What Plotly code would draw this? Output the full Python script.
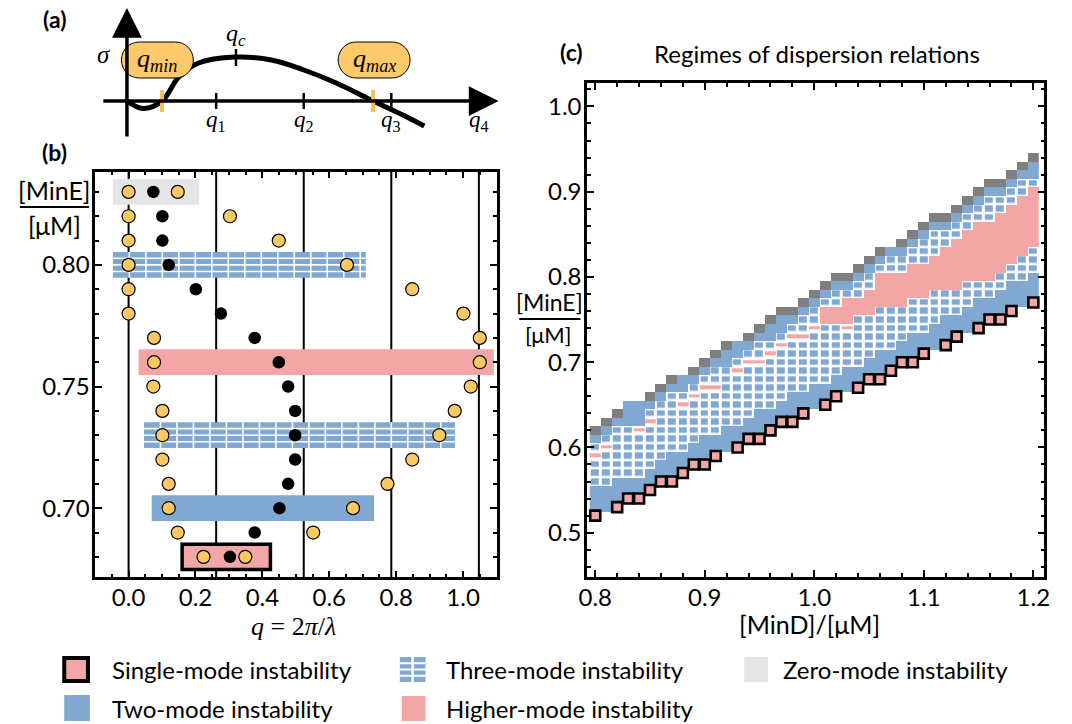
import plotly.graph_objects as go

W, H = 1072, 724
SANS = "Lato, 'DejaVu Sans', sans-serif"
SERIF = "'Liberation Serif', 'DejaVu Serif', serif"
BLUE = "#80a8d0"
PINK = "#f2a6a6"
LGRAY = "#e5e5e5"
DGRAY = "#7f7f7f"
ORANGE = "#fcc862"

# ---------------- panel (a): schematic dispersion relation ----------------
sketch_q = [-0.005, 0.043, 0.10, 0.15, 0.209, 0.318, 0.427, 0.524, 0.621, 0.731, 0.82, 0.884]
sketch_sigma = [0.0, -0.75, 0.0, 2.4, 3.8, 4.4, 4.1, 3.1, 1.8, 0.0, -1.4, -2.5]
q_min_a, q_c_a, q_max_a = 0.10, 0.321, 0.731
sigma_c_a = 4.4

# ---------------- panel (b): unstable band per [MinE] ----------------
mine_b = [0.83, 0.82, 0.81, 0.80, 0.79, 0.78, 0.77, 0.76, 0.75, 0.74, 0.73, 0.72, 0.71, 0.70, 0.69, 0.68]
q_min_b = [0.0, 0.0, 0.0, 0.0, 0.0, 0.0, 0.076, 0.076, 0.074, 0.101, 0.101, 0.101, 0.120, 0.120, 0.147, 0.224]
q_c_b = [0.074, 0.101, 0.101, 0.120, 0.201, 0.276, 0.377, 0.449, 0.477, 0.498, 0.498, 0.498, 0.477, 0.451, 0.377, 0.303]
q_max_b = [0.147, 0.303, 0.449, 0.653, 0.848, 1.001, 1.050, 1.050, 1.023, 0.975, 0.929, 0.848, 0.774, 0.671, 0.552, 0.349]
mode_q = [0.0, 0.2618, 0.5236, 0.7854, 1.0472]
mode_labels = ["", "<i>q</i><sub>1</sub>", "<i>q</i><sub>2</sub>", "<i>q</i><sub>3</sub>", "<i>q</i><sub>4</sub>"]

regime_mine = [0.83, 0.80, 0.76, 0.73, 0.70, 0.68]
regime_kind = ["zero", "three", "higher", "three", "two", "single"]
regime_q_lo = [-0.047, -0.047, 0.030, 0.046, 0.069, 0.160]
regime_q_hi = [0.211, 0.709, 1.092, 0.976, 0.734, 0.424]

# ---------------- panel (c): regime map ----------------
mind = [0.80, 0.81, 0.82, 0.83, 0.84, 0.85, 0.86, 0.87, 0.88, 0.89, 0.90, 0.91, 0.92, 0.93,
        0.94, 0.95, 0.96, 0.97, 0.98, 0.99, 1.00, 1.01, 1.02, 1.03, 1.04, 1.05, 1.06, 1.07,
        1.08, 1.09, 1.10, 1.11, 1.12, 1.13, 1.14, 1.15, 1.16, 1.17, 1.18, 1.19, 1.20]
single_mode = [0.52, None, 0.53, 0.54, 0.54, 0.55, 0.56, 0.56, 0.57, 0.58, 0.58, 0.59, None, 0.60,
               0.61, 0.61, 0.62, 0.63, 0.63, 0.64, None, 0.65, 0.66, None, 0.67, 0.68, 0.68, 0.69,
               0.70, 0.70, 0.71, None, 0.72, 0.73, None, 0.74, 0.75, 0.75, 0.76, None, 0.77]
two_lo = [0.53, 0.53, 0.54, 0.55, 0.55, 0.56, 0.57, 0.57, 0.58, 0.59, 0.59, 0.60, 0.60, 0.61,
          0.62, 0.62, 0.63, 0.64, 0.64, 0.65, 0.65, 0.66, 0.67, 0.67, 0.68, 0.69, 0.69, 0.70,
          0.71, 0.71, 0.72, 0.72, 0.73, 0.74, 0.74, 0.75, 0.76, 0.76, 0.77, 0.77, 0.78]
three_lo = [0.56, 0.56, 0.57, 0.57, 0.57, 0.58, 0.59, 0.60, 0.60, 0.61, 0.62, 0.62, 0.63, 0.63,
            0.64, 0.65, 0.65, 0.66, 0.67, 0.67, 0.68, 0.68, 0.69, 0.70, 0.70, 0.71, 0.72, 0.72,
            0.73, 0.74, 0.74, 0.75, 0.76, 0.76, 0.77, 0.78, 0.78, 0.79, 0.80, 0.80, 0.81]
three_hi = [0.60, 0.61, 0.62, 0.62, 0.62, 0.64, 0.65, 0.66, 0.66, 0.67, 0.68, 0.69, 0.69, 0.70,
            0.71, 0.72, 0.72, 0.73, 0.74, 0.75, 0.76, 0.77, 0.78, 0.78, 0.79, 0.80, 0.81, 0.82,
            0.82, 0.83, 0.84, 0.85, 0.85, 0.86, 0.87, 0.88, 0.89, 0.89, 0.90, 0.91, 0.91]
two_hi = [0.61, 0.62, 0.63, 0.65, 0.65, 0.65, 0.66, 0.67, 0.68, 0.68, 0.69, 0.70, 0.71, 0.72,
          0.72, 0.73, 0.74, 0.75, 0.75, 0.76, 0.77, 0.78, 0.79, 0.79, 0.80, 0.81, 0.82, 0.83,
          0.83, 0.84, 0.85, 0.86, 0.86, 0.87, 0.88, 0.89, 0.90, 0.90, 0.91, 0.92, 0.93]
zero_mode = [0.62, 0.63, 0.64, None, None, 0.66, 0.67, 0.68, None, 0.69, 0.70, 0.71, 0.72, None,
             0.73, 0.74, 0.75, 0.76, 0.76, 0.77, 0.78, 0.79, 0.80, 0.80, 0.81, 0.82, 0.83, None,
             0.84, 0.85, 0.86, 0.87, 0.87, 0.88, 0.89, 0.90, 0.91, 0.91, 0.92, 0.93, 0.94]
higher_lo = [None] * 21 + [0.75, 0.75, 0.75, 0.76, 0.76, 0.77, 0.77, 0.77, 0.78, 0.78,
                           0.79, 0.79, 0.79, 0.80, 0.80, 0.80, 0.81, 0.82, 0.83, 0.84]
higher_hi = [None] * 21 + [0.76, 0.76, 0.77, 0.77, 0.78, 0.80, 0.80, 0.80, 0.81, 0.81,
                           0.82, 0.83, 0.84, 0.85, 0.86, 0.86, 0.87, 0.88, 0.89, 0.90]
dash_mind = [0.80, 0.81, 0.84, 0.85, 0.88, 0.89, 0.90, 0.91, 0.93, 0.94, 0.95, 0.96, 0.97, 0.98, 0.99, 1.00, 1.03]
dash_mine = [0.59, 0.60, 0.62, 0.63, 0.65, 0.66, 0.67, 0.67, 0.69, 0.70, 0.70, 0.71, 0.72, 0.73, 0.73, 0.74, 0.74]

# ---------------- helpers ----------------
def PX(x):
    return x / W


def PY(y):
    return 1 - y / H


def h(v):
    return int(round(v * 100))


fig = go.Figure()

# ---------- panel (a) ----------
fig.add_trace(go.Scatter(x=sketch_q, y=sketch_sigma, mode="lines",
                         line=dict(color="black", width=5, shape="spline", smoothing=1.0),
                         xaxis="x2", yaxis="y2", hoverinfo="skip", showlegend=False))

# ---------- panel (b) ----------
fig.add_trace(go.Scatter(x=q_c_b, y=mine_b, mode="markers",
                         marker=dict(color="black", size=12.5),
                         xaxis="x", yaxis="y", hoverinfo="skip", showlegend=False))
fig.add_trace(go.Scatter(x=q_min_b + q_max_b, y=mine_b + mine_b, mode="markers",
                         marker=dict(color=ORANGE, size=13, line=dict(color="black", width=1.2)),
                         xaxis="x", yaxis="y", hoverinfo="skip", showlegend=False))

# ---------- panel (c) grid ----------
rows_h = list(range(50, 97))
rows = [r / 100 for r in rows_h]


def blank():
    return [[None] * len(mind) for _ in rows_h]


z_two, z_three, z_high, z_dash, z_zero = blank(), blank(), blank(), blank(), blank()
for j in range(len(mind)):
    for r in range(h(two_lo[j]), h(three_lo[j])):
        z_two[r - 50][j] = 1
    for r in range(h(three_hi[j]) + 1, h(two_hi[j]) + 1):
        z_two[r - 50][j] = 1
    for r in range(h(three_lo[j]), h(three_hi[j]) + 1):
        if higher_lo[j] is not None and h(higher_lo[j]) <= r <= h(higher_hi[j]):
            z_high[r - 50][j] = 1
        else:
            z_three[r - 50][j] = 1
    if zero_mode[j] is not None:
        z_zero[h(zero_mode[j]) - 50][j] = 1
for m, e in zip(dash_mind, dash_mine):
    j = mind.index(m)
    z_three[h(e) - 50][j] = None
    z_dash[h(e) - 50][j] = 1


def hm(z, color, xgap=0, ygap=0):
    return go.Heatmap(x=mind, y=rows, z=z, zmin=0, zmax=1,
                      colorscale=[[0, color], [1, color]], showscale=False,
                      xgap=xgap, ygap=ygap, hoverinfo="skip",
                      xaxis="x3", yaxis="y3")


fig.add_trace(hm(z_two, BLUE))
fig.add_trace(hm(z_three, BLUE, 3, 2.5))
fig.add_trace(hm(z_high, PINK))
fig.add_trace(hm(z_dash, PINK, 0, 5))
fig.add_trace(hm(z_zero, DGRAY))
sx = [m for m, s in zip(mind, single_mode) if s is not None]
sy = [s for s in single_mode if s is not None]
fig.add_trace(go.Scatter(x=sx, y=sy, mode="markers",
                         marker=dict(symbol="square", size=10, color=PINK,
                                     line=dict(color="black", width=2.6)),
                         xaxis="x3", yaxis="y3", hoverinfo="skip", showlegend=False))

# ---------------- shapes ----------------
shapes = []
annots = []
half = 0.0053
kind_color = {"zero": LGRAY, "three": BLUE, "higher": PINK, "two": BLUE, "single": PINK}
for e, k, lo, hi in zip(regime_mine, regime_kind, regime_q_lo, regime_q_hi):
    if k == "single":
        shapes.append(dict(type="rect", xref="x", yref="y", x0=lo, x1=hi, y0=e - 0.0052, y1=e + 0.0052,
                           fillcolor=PINK, line=dict(color="black", width=3.5), layer="below"))
    else:
        shapes.append(dict(type="rect", xref="x", yref="y", x0=lo, x1=hi, y0=e - half, y1=e + half,
                           fillcolor=kind_color[k], line=dict(width=0), layer="below"))
    if k == "three":
        step = 0.0493
        xq = lo + step
        while xq < hi - 0.01:
            shapes.append(dict(type="line", xref="x", yref="y", x0=xq, x1=xq, y0=e - half, y1=e + half,
                               line=dict(color="white", width=1.6), layer="below"))
            xq += step
        for dy in (-0.0027, 0.0, 0.0027):
            shapes.append(dict(type="line", xref="x", yref="y", x0=lo, x1=hi, y0=e + dy, y1=e + dy,
                               line=dict(color="white", width=1.6), layer="below"))
for q in mode_q:
    shapes.append(dict(type="line", xref="x", yref="y domain", x0=q, x1=q, y0=0, y1=1,
                       line=dict(color="black", width=2), layer="below"))

# panel (a) decorations
for q, lab in zip(mode_q[1:], mode_labels[1:]):
    shapes.append(dict(type="line", xref="x2", yref="y2", x0=q, x1=q, y0=-0.8, y1=0.8,
                       line=dict(color="black", width=2.5)))
    annots.append(dict(xref="x2", yref="y2", x=q, y=-2.0, text=lab, showarrow=False,
                       font=dict(family=SERIF, size=23, color="black")))
shapes.append(dict(type="line", xref="x2", yref="y2", x0=q_c_a, x1=q_c_a, y0=sigma_c_a - 0.9, y1=sigma_c_a + 0.8,
                   line=dict(color="black", width=2.5)))
for q in (q_min_a, q_max_a):
    shapes.append(dict(type="line", xref="x2", yref="y2", x0=q, x1=q, y0=-1.1, y1=1.1,
                       line=dict(color="#f7c05a", width=4)))


def pill(cx, cy, w, hh):
    ry = hh / 2
    rx = ry * 10 / 338.9  # same radius in px along q (10 px per sigma unit, 338.9 px per q unit)
    x0, x1 = cx - w / 2, cx + w / 2
    y0, y1 = cy - hh / 2, cy + hh / 2
    return (f"M {x0 + rx},{y0} L {x1 - rx},{y0} C {x1 - 0.45 * rx},{y0} {x1},{y0 + 0.45 * ry} {x1},{y0 + ry} "
            f"L {x1},{y1 - ry} C {x1},{y1 - 0.45 * ry} {x1 - 0.45 * rx},{y1} {x1 - rx},{y1} L {x0 + rx},{y1} "
            f"C {x0 + 0.45 * rx},{y1} {x0},{y1 - 0.45 * ry} {x0},{y1 - ry} L {x0},{y0 + ry} "
            f"C {x0},{y0 + 0.45 * ry} {x0 + 0.45 * rx},{y0} {x0 + rx},{y0} Z")


for cx, lab in ((q_min_a - 0.014, "<i>q<sub>min</sub></i>"), (q_max_a + 0.003, "<i>q<sub>max</sub></i>")):
    shapes.append(dict(type="path", xref="x2", yref="y2", path=pill(cx, 4.1, 0.215, 3.6),
                       fillcolor="#fdc96b", line=dict(color="black", width=1)))
    annots.append(dict(xref="x2", yref="y2", x=cx, y=4.1, text=lab, showarrow=False,
                       font=dict(family=SERIF, size=26, color="black")))
annots.append(dict(xref="x2", yref="y2", x=q_c_a, y=6.6, text="<i>q<sub>c</sub></i>", showarrow=False,
                   font=dict(family=SERIF, size=24, color="black")))
annots.append(dict(xref="x2", yref="y2", x=-0.074, y=4.6, text="<i>σ</i>", showarrow=False,
                   font=dict(family=SERIF, size=25, color="black")))
# axis arrows
annots.append(dict(xref="x2", yref="y2", axref="x2", ayref="y2", x=1.106, y=0, ax=-0.08, ay=0,
                   text="", showarrow=True, arrowhead=2, arrowsize=1.7, arrowwidth=3.5, arrowcolor="black"))
annots.append(dict(xref="x2", yref="y2", axref="x2", ayref="y2", x=-0.005, y=9.3, ax=-0.005, ay=-3.7,
                   text="", showarrow=True, arrowhead=2, arrowsize=1.7, arrowwidth=3.5, arrowcolor="black"))


# panel labels, titles
def ptext(x, y, text, size=21, family=SANS, xanchor="center", bold=False):
    annots.append(dict(xref="paper", yref="paper", x=PX(x), y=PY(y), text=(f"<b>{text}</b>" if bold else text),
                       showarrow=False, xanchor=xanchor, yanchor="middle",
                       font=dict(family=family, size=size, color="black")))


ptext(47, 19, "(a)", 23, bold=True)
ptext(47, 152, "(b)", 23, bold=True)
ptext(571, 52, "(c)", 23, bold=True)
ptext(820, 53, "Regimes of dispersion relations", 24)
ptext(289, 626, "<i>q</i> = 2<i>π</i>/<i>λ</i>", 26, family=SERIF)
ptext(812, 624, "[MinD]/[μM]", 25)
ptext(47, 190, "[MinE]", 25)
ptext(47, 225, "[μM]", 25)
shapes.append(dict(type="line", xref="paper", yref="paper", x0=PX(12), x1=PX(82), y0=PY(207), y1=PY(207),
                   line=dict(color="black", width=2)))
ptext(549, 302, "[MinE]", 23)
ptext(547, 334, "[μM]", 22)
shapes.append(dict(type="line", xref="paper", yref="paper", x0=PX(518), x1=PX(580), y0=PY(319), y1=PY(319),
                   line=dict(color="black", width=2)))


# legend (manual)
def prect(x0, y0, x1, y1, fill, lw=0, lc="black"):
    shapes.append(dict(type="rect", xref="paper", yref="paper", x0=PX(x0), x1=PX(x1), y0=PY(y1), y1=PY(y0),
                       fillcolor=fill, line=dict(color=lc, width=lw)))


def pline(x0, y0, x1, y1, color="white", w=2):
    shapes.append(dict(type="line", xref="paper", yref="paper", x0=PX(x0), x1=PX(x1), y0=PY(y0), y1=PY(y1),
                       line=dict(color=color, width=w)))


prect(57, 658, 81, 681, PINK, 4)
prect(57, 695, 83, 721, BLUE)
prect(397, 657, 423, 682, BLUE)
pline(410, 657, 410, 682, w=2.5)
for yy in (663.25, 669.5, 675.75):
    pline(397, yy, 423, yy, w=2)
prect(399, 696, 423, 721, PINK)
prect(746, 657, 770, 682, LGRAY)
ptext(103, 669, "Single-mode instability", 24, xanchor="left")
ptext(103, 708, "Two-mode instability", 24, xanchor="left")
ptext(442, 669, "Three-mode instability", 24, xanchor="left")
ptext(442, 708, "Higher-mode instability", 24, xanchor="left")
ptext(783, 669, "Zero-mode instability", 24, xanchor="left")


# ---------------- axes ----------------
def axstyle(**kw):
    d = dict(showline=True, linewidth=2.5, linecolor="black", mirror="allticks", ticks="inside",
             ticklen=7, tickwidth=2, tickcolor="black", showgrid=False, zeroline=False,
             tickfont=dict(family=SANS, size=24, color="black"))
    d.update(kw)
    return d


def minor(dt):
    return dict(ticks="inside", dtick=dt, ticklen=4, tickwidth=1.5, tickcolor="black", showgrid=False)


fig.update_layout(
    width=W, height=H, margin=dict(l=0, r=0, t=0, b=0),
    paper_bgcolor="white", plot_bgcolor="white", showlegend=False,
    xaxis=axstyle(domain=[PX(88.3), PX(495)], range=[-0.1, 1.1], dtick=0.2, tick0=0, tickformat=".1f",
                  minor=minor(0.05), anchor="y", ticklabelstandoff=-3),
    yaxis=axstyle(domain=[PY(577.3), PY(171.7)], range=[0.6716, 0.8383], dtick=0.05, tick0=0.70,
                  tickformat=".2f", minor=minor(0.01), anchor="x", ticklabelstandoff=-2),
    xaxis2=dict(domain=[PX(88.3), PX(495)], range=[-0.1, 1.1], visible=False, anchor="y2"),
    yaxis2=dict(domain=[PY(138), PY(8)], range=[-3.7, 9.3], visible=False, anchor="x2"),
    xaxis3=axstyle(domain=[PX(586.7), PX(1050)], range=[0.7925, 1.21], dtick=0.1, tick0=0.8, tickformat=".1f",
                   minor=minor(0.02), anchor="y3", ticklabelstandoff=-3),
    yaxis3=axstyle(domain=[PY(577), PY(83)], range=[0.448, 1.0275], dtick=0.1, tick0=0.5, tickformat=".1f",
                   minor=minor(0.02), anchor="x3", ticklabelstandoff=-2),
    shapes=shapes, annotations=annots,
)

fig.write_html("out.html")
